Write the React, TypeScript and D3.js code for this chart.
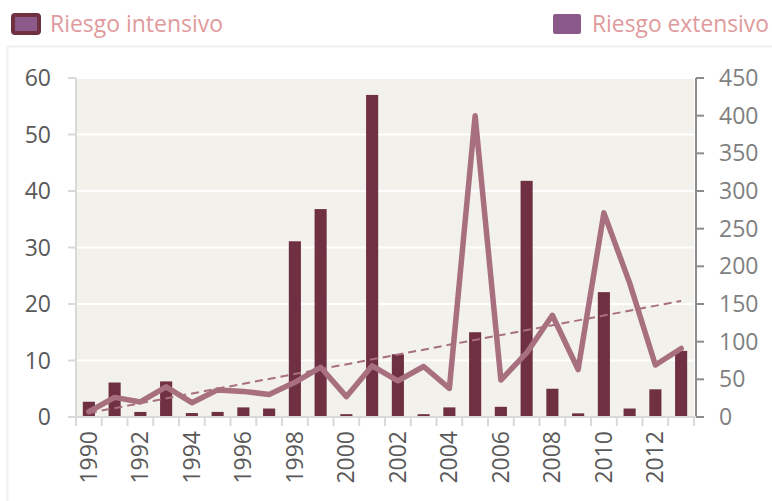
import React from 'react';
import * as d3 from 'd3';

const years = d3.range(1990, 2014).map(String);
// Riesgo intensivo (left axis)
const intensivo = [2.7, 6.1, 0.9, 6.3, 0.7, 0.9, 1.7, 1.5, 31.1, 36.8, 0.5, 57, 11.1, 0.5, 1.7, 15.0, 1.8, 41.8, 5.0, 0.65, 22.1, 1.5, 4.9, 11.7];
// Riesgo extensivo (right axis)
const extensivo = [7, 26, 20, 40, 19, 36, 34, 30, 46, 66, 27, 68, 48, 67, 38, 400, 49, 85, 135, 63, 271, 178, 69, 91];
const leftTicks = [0, 10, 20, 30, 40, 50, 60];
const rightTicks = [0, 50, 100, 150, 200, 250, 300, 350, 400, 450];

const W = 772;
const H = 501;
const left = 76;
const right = 694;
const top = 78;
const bottom = 417;

const barColor = '#6f3142';
const lineColor = '#a86f7e';
const font = "'Open Sans', 'Noto Sans', sans-serif";

const App: React.FC = () => {
  const x = d3.scaleBand<string>().domain(years).range([left, right]).paddingInner(0.53).paddingOuter(0.265);
  const step = x.step();
  const xBoundary = d3.scaleBand<string>().domain(years).range([left, right]);
  const yL = d3.scaleLinear().domain([0, 60]).range([bottom, top]);
  const yR = d3.scaleLinear().domain([0, 450]).range([bottom, top]);
  const cx = (y: string) => (x(y) ?? 0) + x.bandwidth() / 2;

  // linear trend of the extensive series
  const n = extensivo.length;
  const idx = d3.range(n);
  const mx = d3.mean(idx) ?? 0;
  const my = d3.mean(extensivo) ?? 0;
  const slope = d3.sum(idx, i => (i - mx) * (extensivo[i] - my)) / d3.sum(idx, i => (i - mx) ** 2);
  const icpt = my - slope * mx;

  const line = d3.line<number>()
    .x((_, i) => cx(years[i]))
    .y(d => yR(d));

  return (
    <svg width={W} height={H} style={{ position: 'absolute', left: 0, top: 0, background: '#fff' }}>
      {/* outer chart frame */}
      <rect x={7.5} y={46.5} width={W} height={H} fill="none" stroke="#efefef" strokeWidth={2} />

      {/* legend */}
      <rect x={13} y={15} width={26} height={18} rx={2} fill="#8b5a8a" stroke={barColor} strokeWidth={4} />
      <text x={50} y={32} fontFamily={font} fontSize={23} fill="#e09a9c" textLength={173} lengthAdjust="spacingAndGlyphs">Riesgo intensivo</text>
      <rect x={553} y={14} width={28} height={20} rx={2} fill="#8b5a8a" />
      <text x={592} y={32} fontFamily={font} fontSize={23} fill="#e09a9c" textLength={177} lengthAdjust="spacingAndGlyphs">Riesgo extensivo</text>

      {/* plot background */}
      <rect x={left} y={top} width={right - left} height={bottom - top} fill="#f2f1eb" />
      {leftTicks.filter(t => t > 0).map(t => (
        <line key={t} x1={left} x2={right} y1={yL(t)} y2={yL(t)} stroke="#fff" strokeWidth={2} />
      ))}

      {/* bars */}
      {intensivo.map((v, i) => (
        <rect key={years[i]} x={x(years[i])} y={yL(v)} width={x.bandwidth()} height={bottom - yL(v)} fill={barColor} />
      ))}

      {/* trend */}
      <line
        x1={cx(years[0])} y1={yR(icpt)}
        x2={cx(years[n - 1])} y2={yR(icpt + slope * (n - 1))}
        stroke={lineColor} strokeWidth={2} strokeDasharray="8,5"
      />

      {/* extensive line */}
      <path d={line(extensivo) ?? ''} fill="none" stroke={lineColor} strokeWidth={5.5} strokeLinejoin="round" strokeLinecap="round" />

      {/* left axis */}
      <line x1={left} x2={left} y1={top} y2={bottom} stroke="#d9d9d9" strokeWidth={2} />
      {leftTicks.map(t => (
        <g key={t}>
          <line x1={left - 8} x2={left} y1={yL(t)} y2={yL(t)} stroke="#d9d9d9" strokeWidth={2} />
          <text x={51} y={yL(t)} dy="0.35em" textAnchor="end" fontFamily={font} fontSize={23} fill="#595959">{t}</text>
        </g>
      ))}

      {/* right axis */}
      <line x1={right + 2} x2={right + 2} y1={top} y2={bottom} stroke="#8c8c8c" strokeWidth={2} />
      {rightTicks.map(t => (
        <g key={t}>
          <line x1={right + 2} x2={right + 10} y1={yR(t)} y2={yR(t)} stroke="#8c8c8c" strokeWidth={2} />
          <text x={719} y={yR(t)} dy="0.35em" fontFamily={font} fontSize={23} fill="#7f7f7f">{t}</text>
        </g>
      ))}

      {/* bottom axis */}
      <line x1={left} x2={right + 2} y1={bottom} y2={bottom} stroke="#d9d9d9" strokeWidth={2} />
      {years.map(y => (
        <line key={y} x1={xBoundary(y)} x2={xBoundary(y)} y1={bottom} y2={bottom + 9} stroke="#d9d9d9" strokeWidth={2} />
      ))}
      <line x1={right} x2={right} y1={bottom} y2={bottom + 9} stroke="#d9d9d9" strokeWidth={2} />
      {years.filter((_, i) => i % 2 === 0).map(y => (
        <text
          key={y}
          transform={`translate(${cx(y)},${bottom + 14}) rotate(-90)`}
          dy="0.35em"
          textAnchor="end"
          fontFamily={font}
          fontSize={23}
          fill="#595959"
        >{y}</text>
      ))}
      {step > 0 ? null : null}
    </svg>
  );
};

export default App;
